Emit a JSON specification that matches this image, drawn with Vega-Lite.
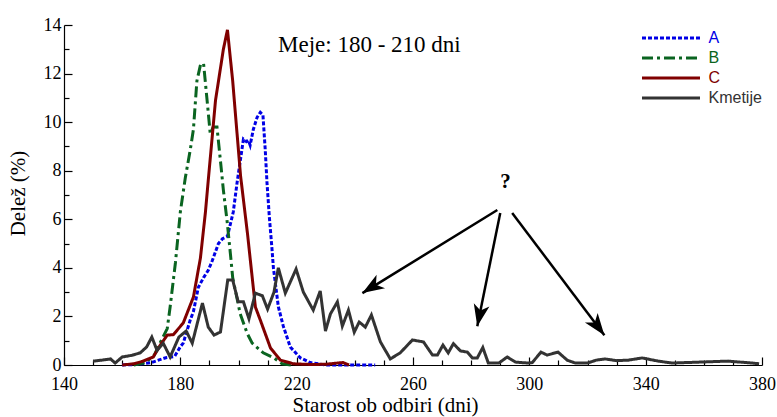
{
  "$schema": "https://vega.github.io/schema/vega-lite/v6.json",
  "width": 698,
  "height": 340,
  "autosize": {"type": "none"},
  "padding": {"left": 64, "top": 25, "right": 15, "bottom": 52},
  "background": "white",
  "config": {
    "view": {"stroke": null},
    "axis": {"grid": false, "domainColor": "#000", "tickColor": "#000", "labelColor": "#000", "titleColor": "#000", "labelFont": "Liberation Serif", "titleFont": "Liberation Serif", "labelFontSize": 18, "titleFontSize": 21, "titleFontWeight": "normal", "domainWidth": 1.2, "tickWidth": 1.2}
  },
  "datasets": {
    "series": [
      {"series": "A", "day": 160, "value": 0}, {"series": "A", "day": 165, "value": 0.02}, {"series": "A", "day": 170, "value": 0.1}, {"series": "A", "day": 175, "value": 0.3}, {"series": "A", "day": 178, "value": 0.35}, {"series": "A", "day": 180, "value": 0.75}, {"series": "A", "day": 181, "value": 0.9}, {"series": "A", "day": 183.4, "value": 1.85}, {"series": "A", "day": 184.5, "value": 2.2}, {"series": "A", "day": 186.2, "value": 3.2}, {"series": "A", "day": 188, "value": 3.6}, {"series": "A", "day": 189.6, "value": 3.9}, {"series": "A", "day": 191, "value": 4.3}, {"series": "A", "day": 193.1, "value": 5.0}, {"series": "A", "day": 194.5, "value": 5.2}, {"series": "A", "day": 196.2, "value": 5.3}, {"series": "A", "day": 198.2, "value": 6.3}, {"series": "A", "day": 199.5, "value": 7.5}, {"series": "A", "day": 200.6, "value": 8.4}, {"series": "A", "day": 201.7, "value": 9.3}, {"series": "A", "day": 202.7, "value": 9.2}, {"series": "A", "day": 203.4, "value": 9.25}, {"series": "A", "day": 204, "value": 9.05}, {"series": "A", "day": 205.1, "value": 9.7}, {"series": "A", "day": 206.4, "value": 10.2}, {"series": "A", "day": 207.5, "value": 10.4}, {"series": "A", "day": 208.4, "value": 10.3}, {"series": "A", "day": 209.2, "value": 8.85}, {"series": "A", "day": 209.8, "value": 7.5}, {"series": "A", "day": 210.6, "value": 6.1}, {"series": "A", "day": 211.5, "value": 4.8}, {"series": "A", "day": 212, "value": 4.0}, {"series": "A", "day": 213.7, "value": 2.4}, {"series": "A", "day": 215.4, "value": 1.6}, {"series": "A", "day": 217.8, "value": 0.74}, {"series": "A", "day": 221.2, "value": 0.3}, {"series": "A", "day": 224.7, "value": 0.1}, {"series": "A", "day": 230, "value": 0}, {"series": "A", "day": 240, "value": 0}, {"series": "A", "day": 247, "value": 0},
      {"series": "B", "day": 164, "value": 0}, {"series": "B", "day": 168, "value": 0.1}, {"series": "B", "day": 171, "value": 0.4}, {"series": "B", "day": 173, "value": 0.9}, {"series": "B", "day": 175.5, "value": 1.5}, {"series": "B", "day": 176.5, "value": 2.4}, {"series": "B", "day": 178.3, "value": 4.2}, {"series": "B", "day": 180, "value": 6.3}, {"series": "B", "day": 181.7, "value": 7.7}, {"series": "B", "day": 183.4, "value": 8.85}, {"series": "B", "day": 184.5, "value": 9.7}, {"series": "B", "day": 185.7, "value": 11.7}, {"series": "B", "day": 187, "value": 12.4}, {"series": "B", "day": 188, "value": 12.4}, {"series": "B", "day": 189.2, "value": 10.9}, {"series": "B", "day": 190.3, "value": 9.5}, {"series": "B", "day": 191.3, "value": 9.8}, {"series": "B", "day": 192.6, "value": 9.8}, {"series": "B", "day": 193.8, "value": 8.4}, {"series": "B", "day": 194.8, "value": 7.2}, {"series": "B", "day": 196.1, "value": 5.9}, {"series": "B", "day": 197.2, "value": 4.6}, {"series": "B", "day": 198, "value": 3.6}, {"series": "B", "day": 200.6, "value": 2.1}, {"series": "B", "day": 203, "value": 1.3}, {"series": "B", "day": 204.7, "value": 0.9}, {"series": "B", "day": 208.5, "value": 0.5}, {"series": "B", "day": 212, "value": 0.3}, {"series": "B", "day": 215, "value": 0.05}, {"series": "B", "day": 218, "value": 0},
      {"series": "C", "day": 160, "value": 0}, {"series": "C", "day": 164, "value": 0.05}, {"series": "C", "day": 167, "value": 0.15}, {"series": "C", "day": 170.7, "value": 0.33}, {"series": "C", "day": 173, "value": 0.8}, {"series": "C", "day": 175.5, "value": 1.23}, {"series": "C", "day": 177.6, "value": 1.25}, {"series": "C", "day": 181, "value": 1.73}, {"series": "C", "day": 184.5, "value": 2.8}, {"series": "C", "day": 186.9, "value": 4.4}, {"series": "C", "day": 188.6, "value": 6.26}, {"series": "C", "day": 189.6, "value": 7.6}, {"series": "C", "day": 192.1, "value": 10.9}, {"series": "C", "day": 194.8, "value": 13}, {"series": "C", "day": 196.2, "value": 13.8}, {"series": "C", "day": 198, "value": 11.7}, {"series": "C", "day": 200.7, "value": 7.8}, {"series": "C", "day": 203.1, "value": 5.4}, {"series": "C", "day": 205.8, "value": 2.39}, {"series": "C", "day": 207.5, "value": 1.85}, {"series": "C", "day": 211, "value": 0.7}, {"series": "C", "day": 214.4, "value": 0.2}, {"series": "C", "day": 218.9, "value": 0.05}, {"series": "C", "day": 225, "value": 0.02}, {"series": "C", "day": 230, "value": 0.03}, {"series": "C", "day": 234, "value": 0.08}, {"series": "C", "day": 236, "value": 0.1}, {"series": "C", "day": 238, "value": 0},
      {"series": "Kmetije", "day": 150, "value": 0.16}, {"series": "Kmetije", "day": 153, "value": 0.2}, {"series": "Kmetije", "day": 156, "value": 0.25}, {"series": "Kmetije", "day": 157.6, "value": 0.08}, {"series": "Kmetije", "day": 160, "value": 0.33}, {"series": "Kmetije", "day": 163.4, "value": 0.4}, {"series": "Kmetije", "day": 166.2, "value": 0.5}, {"series": "Kmetije", "day": 168.4, "value": 0.74}, {"series": "Kmetije", "day": 170.2, "value": 1.15}, {"series": "Kmetije", "day": 172, "value": 0.6}, {"series": "Kmetije", "day": 174.1, "value": 0.9}, {"series": "Kmetije", "day": 176.5, "value": 0.33}, {"series": "Kmetije", "day": 179.5, "value": 1.15}, {"series": "Kmetije", "day": 182, "value": 1.4}, {"series": "Kmetije", "day": 184.1, "value": 0.9}, {"series": "Kmetije", "day": 187.6, "value": 2.55}, {"series": "Kmetije", "day": 189.6, "value": 1.56}, {"series": "Kmetije", "day": 191.6, "value": 1.23}, {"series": "Kmetije", "day": 193.8, "value": 1.36}, {"series": "Kmetije", "day": 196.3, "value": 3.5}, {"series": "Kmetije", "day": 198, "value": 3.5}, {"series": "Kmetije", "day": 199.9, "value": 2.6}, {"series": "Kmetije", "day": 201.7, "value": 2.6}, {"series": "Kmetije", "day": 203.6, "value": 1.9}, {"series": "Kmetije", "day": 205.8, "value": 2.96}, {"series": "Kmetije", "day": 208.2, "value": 2.85}, {"series": "Kmetije", "day": 210, "value": 2.3}, {"series": "Kmetije", "day": 212.2, "value": 3.0}, {"series": "Kmetije", "day": 213.7, "value": 4.0}, {"series": "Kmetije", "day": 216.1, "value": 2.96}, {"series": "Kmetije", "day": 219.8, "value": 3.95}, {"series": "Kmetije", "day": 222.3, "value": 3.0}, {"series": "Kmetije", "day": 225.7, "value": 2.26}, {"series": "Kmetije", "day": 228.1, "value": 3.05}, {"series": "Kmetije", "day": 229.9, "value": 1.4}, {"series": "Kmetije", "day": 231.6, "value": 2.1}, {"series": "Kmetije", "day": 234, "value": 2.6}, {"series": "Kmetije", "day": 235.7, "value": 1.6}, {"series": "Kmetije", "day": 237.8, "value": 2.26}, {"series": "Kmetije", "day": 239.8, "value": 1.35}, {"series": "Kmetije", "day": 241.5, "value": 1.77}, {"series": "Kmetije", "day": 243.6, "value": 1.56}, {"series": "Kmetije", "day": 245.7, "value": 2.06}, {"series": "Kmetije", "day": 248.8, "value": 0.95}, {"series": "Kmetije", "day": 252.2, "value": 0.25}, {"series": "Kmetije", "day": 255.6, "value": 0.5}, {"series": "Kmetije", "day": 259.8, "value": 1.03}, {"series": "Kmetije", "day": 263.6, "value": 0.95}, {"series": "Kmetije", "day": 266.7, "value": 0.41}, {"series": "Kmetije", "day": 268.4, "value": 0.41}, {"series": "Kmetije", "day": 270.3, "value": 0.82}, {"series": "Kmetije", "day": 272.1, "value": 0.5}, {"series": "Kmetije", "day": 273.9, "value": 0.88}, {"series": "Kmetije", "day": 276.3, "value": 0.58}, {"series": "Kmetije", "day": 278.7, "value": 0.53}, {"series": "Kmetije", "day": 280.4, "value": 0.29}, {"series": "Kmetije", "day": 282.1, "value": 0.29}, {"series": "Kmetije", "day": 284, "value": 0.72}, {"series": "Kmetije", "day": 285.9, "value": 0.08}, {"series": "Kmetije", "day": 289.5, "value": 0.08}, {"series": "Kmetije", "day": 292.4, "value": 0.33}, {"series": "Kmetije", "day": 295.2, "value": 0.12}, {"series": "Kmetije", "day": 299.5, "value": 0.08}, {"series": "Kmetije", "day": 301, "value": 0.1}, {"series": "Kmetije", "day": 304, "value": 0.53}, {"series": "Kmetije", "day": 306.1, "value": 0.41}, {"series": "Kmetije", "day": 309.9, "value": 0.53}, {"series": "Kmetije", "day": 313, "value": 0.2}, {"series": "Kmetije", "day": 315.8, "value": 0.08}, {"series": "Kmetije", "day": 320, "value": 0.08}, {"series": "Kmetije", "day": 323, "value": 0.2}, {"series": "Kmetije", "day": 326, "value": 0.25}, {"series": "Kmetije", "day": 330, "value": 0.18}, {"series": "Kmetije", "day": 334, "value": 0.2}, {"series": "Kmetije", "day": 338.8, "value": 0.29}, {"series": "Kmetije", "day": 344.3, "value": 0.16}, {"series": "Kmetije", "day": 349.1, "value": 0.08}, {"series": "Kmetije", "day": 358.7, "value": 0.12}, {"series": "Kmetije", "day": 368.3, "value": 0.16}, {"series": "Kmetije", "day": 376.6, "value": 0.08}, {"series": "Kmetije", "day": 379, "value": 0.05}
    ],
    "arrows": [
      {"x": 289.0, "y": 6.38, "x2": 242.6, "y2": 2.96, "angle": 238},
      {"x": 290.0, "y": 6.26, "x2": 282.1, "y2": 1.6, "angle": 191.5},
      {"x": 294.1, "y": 6.26, "x2": 325.8, "y2": 1.23, "angle": 143}
    ],
    "notes": [
      {"label": "Meje: 180 - 210 dni", "x": 245, "y": 13.17, "kind": "range"},
      {"label": "?", "x": 291.8, "y": 7.53, "kind": "q"}
    ]
  },
  "layer": [
    {
      "data": {"name": "series"},
      "mark": {"type": "line", "strokeWidth": 3},
      "encoding": {
        "x": {"field": "day", "type": "quantitative", "scale": {"domain": [140, 380], "nice": false, "zero": false},
          "axis": {"orient": "bottom", "values": [140, 180, 220, 260, 300, 340, 380], "tickSize": -8, "labelPadding": 18, "labelFlush": false, "title": "Starost ob odbiri (dni)", "titleFontSize": 21, "titleX": 321, "titleY": 40, "titleAlign": "center", "titleBaseline": "middle"}},
        "y": {"field": "value", "type": "quantitative", "scale": {"domain": [0, 14], "nice": false},
          "axis": {"orient": "left", "values": [0, 2, 4, 6, 8, 10, 12, 14], "tickSize": -8, "labelPadding": 11, "title": "Delež (%)", "titleX": -46, "titleY": 168, "titleAngle": -90, "titleAlign": "center", "titleBaseline": "middle"}},
        "color": {"field": "series", "type": "nominal", "scale": {"domain": ["A", "B", "C", "Kmetije"], "range": ["#0000E6", "#0A6420", "#800000", "#333333"]},
          "legend": {"orient": "none", "legendX": 616.5, "legendY": 1.5, "title": null, "symbolType": "M-5,0L0.8,0", "symbolSize": 400, "symbolStrokeWidth": 3, "labelFont": "Liberation Sans", "labelFontSize": 16, "labelOffset": 5, "padding": 0, "rowPadding": 0, "encode": {"labels": {"update": {"fill": {"scale": "color", "field": "value"}}}}}},
        "strokeDash": {"field": "series", "type": "nominal", "scale": {"domain": ["A", "B", "C", "Kmetije"], "range": [[4, 2], [11, 4, 3, 4], [1, 0], [1, 0]]},
          "legend": {"orient": "none", "legendX": 616.5, "legendY": 1.5, "title": null, "symbolType": "M-5,0L0.8,0", "symbolSize": 400, "symbolStrokeWidth": 3, "labelFont": "Liberation Sans", "labelFontSize": 16, "labelOffset": 5, "padding": 0, "rowPadding": 0, "encode": {"labels": {"update": {"fill": {"scale": "color", "field": "value"}}}}}}
      }
    },
    {
      "data": {"name": "arrows"},
      "mark": {"type": "rule", "strokeWidth": 2.5, "color": "#000"},
      "encoding": {
        "x": {"field": "x", "type": "quantitative", "axis": {"orient": "bottom", "values": [150, 160, 170, 190, 200, 210, 230, 240, 250, 270, 280, 290, 310, 320, 330, 350, 360, 370], "tickSize": -5, "labels": false, "domain": false, "title": null}},
        "y": {"field": "y", "type": "quantitative", "axis": {"orient": "left", "values": [1, 3, 5, 7, 9, 11, 13], "tickSize": -5, "labels": false, "domain": false, "title": null}},
        "x2": {"field": "x2"},
        "y2": {"field": "y2"}
      }
    },
    {
      "data": {"name": "arrows"},
      "mark": {"type": "point", "shape": "M0,0L0.55,1.5L0,1.1L-0.55,1.5Z", "filled": true, "color": "#000", "opacity": 1, "size": 840},
      "encoding": {
        "x": {"field": "x2", "type": "quantitative", "axis": null},
        "y": {"field": "y2", "type": "quantitative", "axis": null},
        "angle": {"field": "angle", "type": "quantitative", "scale": null}
      }
    },
    {
      "data": {"name": "notes"},
      "transform": [{"filter": "datum.kind === 'range'"}],
      "mark": {"type": "text", "font": "Liberation Serif", "fontSize": 23, "color": "#000", "align": "center", "baseline": "middle"},
      "encoding": {
        "x": {"field": "x", "type": "quantitative", "axis": null},
        "y": {"field": "y", "type": "quantitative", "axis": null},
        "text": {"field": "label"}
      }
    },
    {
      "data": {"name": "notes"},
      "transform": [{"filter": "datum.kind === 'q'"}],
      "mark": {"type": "text", "font": "Liberation Serif", "fontSize": 21, "fontWeight": "bold", "color": "#000", "align": "center", "baseline": "middle"},
      "encoding": {
        "x": {"field": "x", "type": "quantitative", "axis": null},
        "y": {"field": "y", "type": "quantitative", "axis": null},
        "text": {"field": "label"}
      }
    }
  ],
  "resolve": {"axis": {"x": "independent", "y": "independent"}}
}
